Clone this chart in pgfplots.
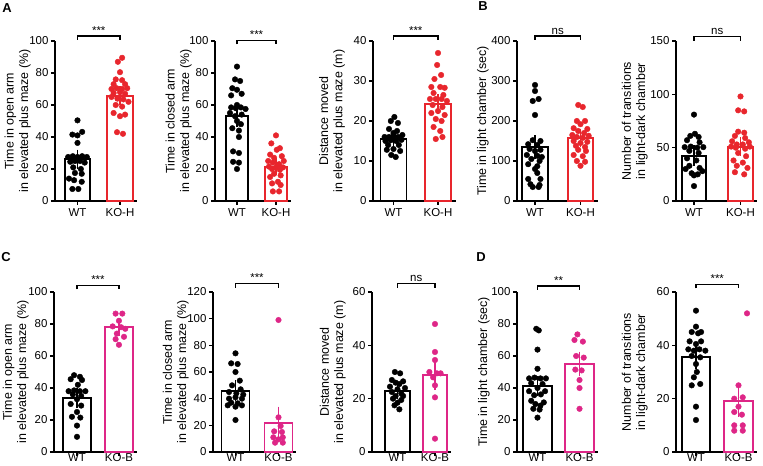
\documentclass[border=0pt]{standalone}
\usepackage{fontspec}
\setmainfont{Liberation Sans}
\usepackage{pgfplots}
\pgfplotsset{compat=1.18}
\definecolor{kored}{RGB}{232,38,45}
\definecolor{kobm}{RGB}{222,38,135}
\pgfplotsset{panel/.style={
  scale only axis, anchor=south west, clip=false,
  axis x line*=bottom, axis y line*=left,
  axis line style={line width=1.2bp, black},
  every tick/.style={line width=1.2bp, black},
  major tick length=4bp, tick align=outside,
  ymin=0, xtick={0,1},
  tick label style={font=\fontsize{11.5}{13}\selectfont},
  yticklabel style={xshift=1bp},
  ylabel style={font=\fontsize{12.5}{14.5}\selectfont, align=center, anchor=south, inner sep=0pt},
  /pgf/number format/assume math mode=true,
  height=160bp,
}, row2/.style={height=160bp, xticklabel style={yshift=4bp, inner sep=1bp}}}
\newcommand{\bars}[5]{%
\addplot[ybar, bar shift=0pt, draw=black, fill=white, line width=1.9bp, error bars/.cd, y dir=both, y explicit, error bar style={line width=1.4bp, black}, error mark options={black, line width=1.4bp, mark size=6bp}] coordinates {(0,#1) +- (0,#2)};
\addplot[ybar, bar shift=0pt, draw=#5, fill=white, line width=1.9bp, error bars/.cd, y dir=both, y explicit, error bar style={line width=1.4bp, #5}, error mark options={#5, line width=1.4bp, mark size=6bp}] coordinates {(1,#3) +- (0,#4)};}
\newcommand{\sig}[3]{%
\draw[line width=1.1bp] ([yshift=#2bp-4bp]axis cs:0,#1) -- ([yshift=#2bp]axis cs:0,#1) -- ([yshift=#2bp]axis cs:1,#1) -- ([yshift=#2bp-4bp]axis cs:1,#1);
\node[anchor=south, inner sep=1.5bp, font=\fontsize{11.5}{13}\selectfont] at ([yshift=#2bp]axis cs:0.5,#1) {#3};}
\pgfplotsset{wt/.style={only marks, mark=*, mark size=2.8bp, mark options={draw=black, fill=black}},
ko/.style={only marks, mark=*, mark size=2.8bp, mark options={draw=#1, fill=#1}}}
\begin{document}
\begin{tikzpicture}
\path[use as bounding box] (0,0) rectangle (763bp,466bp);
\node[font=\bfseries\fontsize{13}{13}\selectfont] at (7bp,458bp) {A};
\node[font=\bfseries\fontsize{13}{13}\selectfont] at (483bp,460bp) {B};
\node[font=\bfseries\fontsize{13}{13}\selectfont] at (6bp,209bp) {C};
\node[font=\bfseries\fontsize{13}{13}\selectfont] at (481bp,209bp) {D};
% ---------- A1
\begin{axis}[panel, at={(55bp,265bp)}, width=82bp, xmin=-0.529, xmax=1.4, bar width=0.6,
  ymax=100, ytick={0,20,...,100}, xticklabels={WT,KO-H},
  ylabel={Time in open arm\\in elevated plus maze (\%)}, ylabel style={at={(axis description cs:-0.293,0.5)}}]
\bars{26}{2.3}{65.8}{2.3}{kored}
\addplot[wt] coordinates {(0,50.4) (-0.12,41.5) (0.0,41.0) (0.11,43.2) (0,36.3) (-0.22,27.5) (-0.11,28) (0,27.5) (0.11,28) (0.22,27.5) (-0.17,24.5) (-0.06,25) (0.06,25) (0.17,24) (-0.1,21) (0.08,20) (-0.06,17.5) (0.1,17) (-0.2,14) (-0.08,13) (0.1,12) (-0.12,7.5) (0.02,7.5)};
\addplot[ko=kored] coordinates {(1.05,89.5) (0.95,87) (1,80.5) (0.9,76) (1.05,75.5) (0.85,73) (1.12,73) (0.8,70) (0.92,70.5) (1.05,70) (1.17,70.5) (0.85,67.5) (1,68) (1.12,67) (0.8,65) (0.94,64) (1.08,63.5) (1.2,62) (0.9,60) (1.05,59) (0.85,55) (1.12,54) (1,53) (0.93,43) (1.07,42)};
\sig{100}{5}{***}
\end{axis}
% ---------- A2
\begin{axis}[panel, at={(215bp,265bp)}, width=76bp, xmin=-0.564, xmax=1.385, bar width=0.564,
  ymax=100, ytick={0,20,...,100}, xticklabels={WT,KO-H},
  ylabel={Time in closed arm\\in elevated plus maze (\%)}, ylabel style={at={(axis description cs:-0.303,0.5)}}]
\bars{53}{3.3}{21.5}{1.6}{kored}
\addplot[wt] coordinates {(0,84) (-0.05,76) (0.08,75) (-0.12,70.5) (0,69.5) (0.12,67) (-0.15,66) (0,60) (-0.15,58.5) (-0.03,58) (0.1,58.5) (0.22,57.5) (-0.18,55) (0.12,54) (-0.05,53) (0,50) (0.1,48) (-0.12,45.5) (0.05,44) (0.05,40) (-0.1,31) (0.05,30) (-0.1,24.5) (0.05,24) (0,20)};
\addplot[ko=kored] coordinates {(1,41) (0.88,36) (1.1,33) (1.02,32) (0.85,29) (1.15,28) (0.95,27) (0.8,25) (1.2,25) (0.92,24) (1.08,23) (0.82,21.5) (1,21) (1.18,21) (0.9,20) (1.1,19.5) (0.95,17) (1.12,16) (0.85,15) (1.05,12) (0.9,11) (1.12,10) (0.92,6) (1.08,6)};
\sig{100}{0.5}{***}
\end{axis}
% ---------- A3
\begin{axis}[panel, at={(373bp,265bp)}, width=83bp, xmin=-0.46, xmax=1.404, bar width=0.584,
  ymax=40, ytick={0,10,...,40}, xticklabels={WT,KO-H},
  ylabel={Distance moved\\in elevated plus maze (m)}, ylabel style={at={(axis description cs:-0.334,0.5)}}]
\bars{15.5}{0.5}{24.2}{1.0}{kored}
\addplot[wt] coordinates {(0.02,21) (-0.06,20) (0.1,19.5) (-0.1,18) (0.08,17.5) (0.0,17) (-0.2,16) (-0.1,16) (0,16.3) (0.1,16) (0.2,16.5) (-0.18,15) (-0.06,15.2) (0.06,15) (0.18,15.3) (-0.12,14) (0.12,14) (-0.15,12.8) (0,13) (0.15,12.5) (-0.05,11.5) (0.05,11)};
\addplot[ko=kored] coordinates {(1,37) (0.98,34) (1.07,31.5) (0.92,30.5) (0.85,28.5) (1.05,28.5) (1.15,28.3) (0.9,27) (1.12,26.5) (0.82,25.5) (0.95,25.5) (1.08,25.5) (1.2,25) (0.88,24) (1.1,23.5) (1,22.5) (0.85,22) (1.15,21.5) (0.95,20.5) (1.08,20) (0.9,18.5) (1.05,17.5) (1.1,16) (0.95,15.5)};
\sig{40}{5}{***}
\end{axis}
% ---------- B1
\begin{axis}[panel, at={(517bp,265bp)}, width=81bp, xmin=-0.396, xmax=1.385, bar width=0.56,
  ymax=400, ytick={0,100,...,400}, xticklabels={WT,KO-H},
  ylabel={Time in light chamber (sec)}, ylabel style={at={(axis description cs:-0.346,0.5)}}]
\bars{135}{14}{158}{7}{kored}
\addplot[wt] coordinates {(0,290) (0,275) (0.08,255) (-0.05,250) (0,215) (-0.05,152) (0.12,150) (-0.15,142) (0.05,140) (-0.12,130) (0.12,128) (0,125) (-0.18,115) (0.05,113) (0.15,110) (-0.08,105) (0.1,100) (-0.15,92) (0.05,87) (0,80) (0.05,70) (-0.15,55) (0.12,55) (-0.1,42) (0.1,40) (-0.05,35) (0.08,35)};
\addplot[ko=kored] coordinates {(0.95,240) (1.05,235) (0.92,200) (1.1,200) (1,192) (0.85,182) (1.15,180) (0.95,175) (1.08,170) (0.82,165) (1.18,163) (0.92,160) (1.05,158) (0.85,150) (1.15,148) (1,145) (0.9,138) (1.1,135) (0.95,128) (1.12,125) (0.85,115) (1.05,112) (0.92,100) (1.1,98) (1,88)};
\sig{400}{5}{ns}
\end{axis}
% ---------- B2
\begin{axis}[panel, at={(676bp,265bp)}, width=81bp, xmin=-0.387, xmax=1.355, bar width=0.52,
  ymax=150, ytick={0,50,...,150}, xticklabels={WT,KO-H},
  ylabel={Number of transitions\\in light-dark chamber}, ylabel style={at={(axis description cs:-0.346,0.5)}}]
\bars{42.5}{4}{51}{3}{kored}
\addplot[wt] coordinates {(0,81) (0.02,63) (-0.08,61) (0.1,60) (-0.15,57) (0.12,55) (-0.2,50.5) (-0.07,51) (0.07,50) (0.2,50.5) (-0.1,47) (0.1,45) (-0.15,40) (0.05,38) (-0.1,33) (0.12,31) (-0.18,30) (0.18,28) (-0.05,26) (0.08,25) (0,24) (0,14)};
\addplot[ko=kored] coordinates {(1,98) (0.95,85) (1.08,84) (0.95,65) (1.08,64) (0.88,61) (1.1,59) (0.82,56) (1.18,55) (0.92,53) (1.05,53) (0.8,51) (1.2,51) (0.9,50) (1.1,49) (0.95,45) (1.12,42) (0.85,38) (1.05,36) (0.92,33) (1.15,31) (0.88,27) (1.08,25)};
\sig{150}{4.3}{ns}
\end{axis}
% ---------- C1
\begin{axis}[panel, row2, at={(54bp,14bp)}, width=83bp, xmin=-0.548, xmax=1.43, bar width=0.68,
  ymax=100, ytick={0,20,...,100}, xticklabels={WT,KO-B},
  ylabel={Time in open arm\\in elevated plus maze (\%)}, ylabel style={at={(axis description cs:-0.301,0.5)}}]
\bars{34}{2.5}{78}{2}{kobm}
\addplot[wt] coordinates {(-0.07,48) (0.07,47) (-0.15,45.5) (0.12,45) (0.02,42) (-0.2,38) (-0.07,38.5) (0.07,38) (0.2,38) (-0.1,36) (0.1,35) (0,33) (-0.15,30) (0.1,29) (0,25) (-0.12,22) (0.08,21.5) (0,16.5) (0,9.5)};
\addplot[ko=kobm] coordinates {(0.92,86.5) (1.08,86.5) (1,82) (0.85,78.5) (1.05,78) (1.15,77) (0.95,74) (1.12,72) (0.92,70.5) (1,67)};
\sig{100}{6.7}{***}
\end{axis}
% ---------- C2
\begin{axis}[panel, row2, at={(213bp,14bp)}, width=83bp, xmin=-0.523, xmax=1.407, bar width=0.65,
  ymax=120, ytick={0,20,...,120}, xticklabels={WT,KO-B},
  ylabel={Time in closed arm\\in elevated plus maze (\%)}, ylabel style={at={(axis description cs:-0.289,0.5)}}]
\bars{46}{3.2}{22}{7.5}{kobm}
\addplot[wt] coordinates {(0,74) (-0.1,66.5) (0.05,66) (0,60) (0.1,53.5) (-0.08,50) (0.12,47) (-0.15,45) (0.02,44) (0.18,43) (-0.15,40) (0,41) (0.15,40) (-0.1,37) (0.05,36.5) (-0.18,35) (0.15,35) (0,34) (0,24)};
\addplot[ko=kobm] coordinates {(1,99) (1,26) (1.05,19.5) (0.9,15.5) (1.08,15) (1.1,11) (0.88,11) (1,9.5) (0.92,7) (1.1,7)};
\sig{120}{8.3}{***}
\end{axis}
% ---------- C3
\begin{axis}[panel, row2, at={(372bp,14bp)}, width=79bp, xmin=-0.68, xmax=1.427, bar width=0.653,
  ymax=60, ytick={0,20,...,60}, xticklabels={WT,KO-B},
  ylabel={Distance moved\\in elevated plus maze (m)}, ylabel style={at={(axis description cs:-0.329,0.5)}}]
\bars{23}{1}{29}{3.5}{kobm}
\addplot[wt] coordinates {(-0.07,30) (0.07,29.5) (-0.15,27) (0.15,26.5) (-0.05,26) (0.05,25.5) (-0.2,24.5) (0.2,24) (0,23.5) (-0.15,22.5) (0.1,22) (-0.05,21) (0.15,21) (-0.12,20) (0.1,19.5) (0,18.5) (-0.08,17.5) (0.05,16)};
\addplot[ko=kobm] coordinates {(1,48) (1,37.5) (1,34.5) (0.85,30) (1.05,29.5) (1.15,29.5) (0.95,28) (1,25) (1,20.5) (1,5)};
\sig{60}{8.3}{ns}
\end{axis}
% ---------- D1
\begin{axis}[panel, row2, at={(517bp,14bp)}, width=81bp, xmin=-0.488, xmax=1.44, bar width=0.69,
  ymax=100, ytick={0,20,...,100}, xticklabels={WT,KO-B},
  ylabel={Time in light chamber (sec)}, ylabel style={at={(axis description cs:-0.333,0.5)}}]
\bars{41}{2.5}{55}{4}{kobm}
\addplot[wt] coordinates {(-0.03,77) (0.03,76) (0,64) (0,52) (-0.2,46) (-0.07,46.5) (0.07,46) (0.2,46) (-0.15,43) (0.12,42.5) (0,40) (-0.2,38) (0.18,38) (-0.08,35.5) (0.08,36) (-0.15,32) (0.15,31) (-0.05,30) (0.07,29) (-0.1,27) (0.05,26.5) (0,21.5)};
\addplot[ko=kobm] coordinates {(0.95,73.5) (0.88,70) (1.08,69) (0.92,60) (1.1,59) (0.9,51.5) (1.05,51) (1,45) (1,40) (1,27)};
\sig{100}{6}{**}
\end{axis}
% ---------- D2
\begin{axis}[panel, row2, at={(676bp,14bp)}, width=81bp, xmin=-0.47, xmax=1.435, bar width=0.67,
  ymax=60, ytick={0,20,...,60}, xticklabels={WT,KO-B},
  ylabel={Number of transitions\\in light-dark chamber}, ylabel style={at={(axis description cs:-0.346,0.5)}}]
\bars{35.5}{2.3}{19}{3.5}{kobm}
\addplot[wt] coordinates {(0,53) (0,47) (-0.1,45) (0.12,45) (0.05,44.5) (-0.15,41.5) (0.12,41.5) (0,40.5) (-0.18,38.5) (-0.05,38) (0.08,38.5) (0.22,38) (-0.1,36) (0.1,35.5) (0,33) (0.02,30) (-0.05,28) (-0.1,25) (0.1,25.5) (0,17) (0,12)};
\addplot[ko=kobm] coordinates {(1.2,52) (1,25) (0.9,20) (1.1,20.5) (1,17) (0.9,15) (1.08,14) (0.9,10) (1.1,10) (0.9,8) (1.1,8)};
\sig{60}{7.7}{***}
\end{axis}
\end{tikzpicture}
\end{document}
